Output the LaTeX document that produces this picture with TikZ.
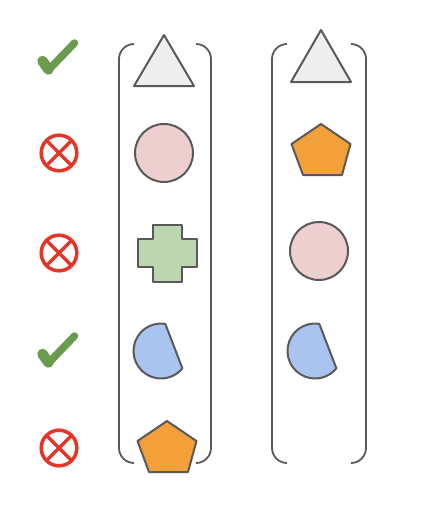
\documentclass[tikz,border=0pt]{standalone}
\usetikzlibrary{shapes.geometric}
\definecolor{edge}{HTML}{595959}
\definecolor{okgreen}{HTML}{6B9B4F}
\definecolor{nored}{HTML}{E53528}
\definecolor{trifill}{HTML}{EEEEEE}
\definecolor{circfill}{HTML}{ECCFCE}
\definecolor{crossfill}{HTML}{BCD6B0}
\definecolor{semifill}{HTML}{AAC4F0}
\definecolor{pentfill}{HTML}{F3A03A}
\tikzset{
  shapeline/.style={draw=edge, line width=2pt, line join=round},
  bracketline/.style={draw=edge, line width=1.8pt, rounded corners=15pt},
  okmark/.style={draw=okgreen, line cap=round, line join=round},
  nomark/.style={draw=nored, line width=3.5pt},
}
\newcommand{\okcheck}[1]{%
  \begin{scope}[shift={(0,#1)}]
    \draw[okmark, line width=10.5pt] (42.5,4) -- (48.5,12.5);
    \draw[okmark, line width=7.5pt] (49,12.5) -- (74.5,-14);
  \end{scope}}
\newcommand{\nocross}[1]{%
  \begin{scope}[shift={(59,#1)}]
    \draw[nomark] (0,0) circle[radius=17.8];
    \draw[nomark] (-12.6,-12.6) -- (12.6,12.6);
    \draw[nomark] (-12.6,12.6) -- (12.6,-12.6);
  \end{scope}}
\newcommand{\pent}[2]{%
  \begin{scope}[shift={(#1,#2)}]
    \draw[shapeline, fill=pentfill] (0,0) -- (29.5,20) -- (21,51) -- (-18,51) -- (-29.5,20) -- cycle;
  \end{scope}}
\newcommand{\semi}[1]{%
  \begin{scope}[shift={(#1,351)}]
    \draw[shapeline, fill=semifill] (-81:27.5) arc[start angle=-81, end angle=-321, radius=27.5] -- cycle;
  \end{scope}}
\begin{document}
\begin{tikzpicture}[x=1pt, y=-1pt]
\useasboundingbox (0,0) rectangle (432,506);
% marks
\okcheck{57}
\nocross{153}
\nocross{253}
\okcheck{350}
\nocross{448}
% brackets
\draw[bracketline] (134,44) -| (119,463) -- (134,463);
\draw[bracketline] (196,44) -| (211,463) -- (196,463);
\draw[bracketline] (287,44) -| (272,463) -- (287,463);
\draw[bracketline] (351,44) -| (366,463) -- (351,463);
% left column
\draw[shapeline, fill=trifill] (164,35) -- (194,86) -- (134,86) -- cycle;
\draw[shapeline, fill=circfill] (164,153) circle[radius=29];
\draw[shapeline, fill=crossfill] (153,225) -- (182,225) -- (182,239) -- (197,239) -- (197,267) -- (182,267) -- (182,282) -- (153,282) -- (153,267) -- (138,267) -- (138,239) -- (153,239) -- cycle;
\semi{161}
\pent{167}{421}
% right column
\draw[shapeline, fill=trifill] (321,30) -- (351,82) -- (291,82) -- cycle;
\pent{321}{124}
\draw[shapeline, fill=circfill] (319,251) circle[radius=29];
\semi{315}
\end{tikzpicture}
\end{document}
